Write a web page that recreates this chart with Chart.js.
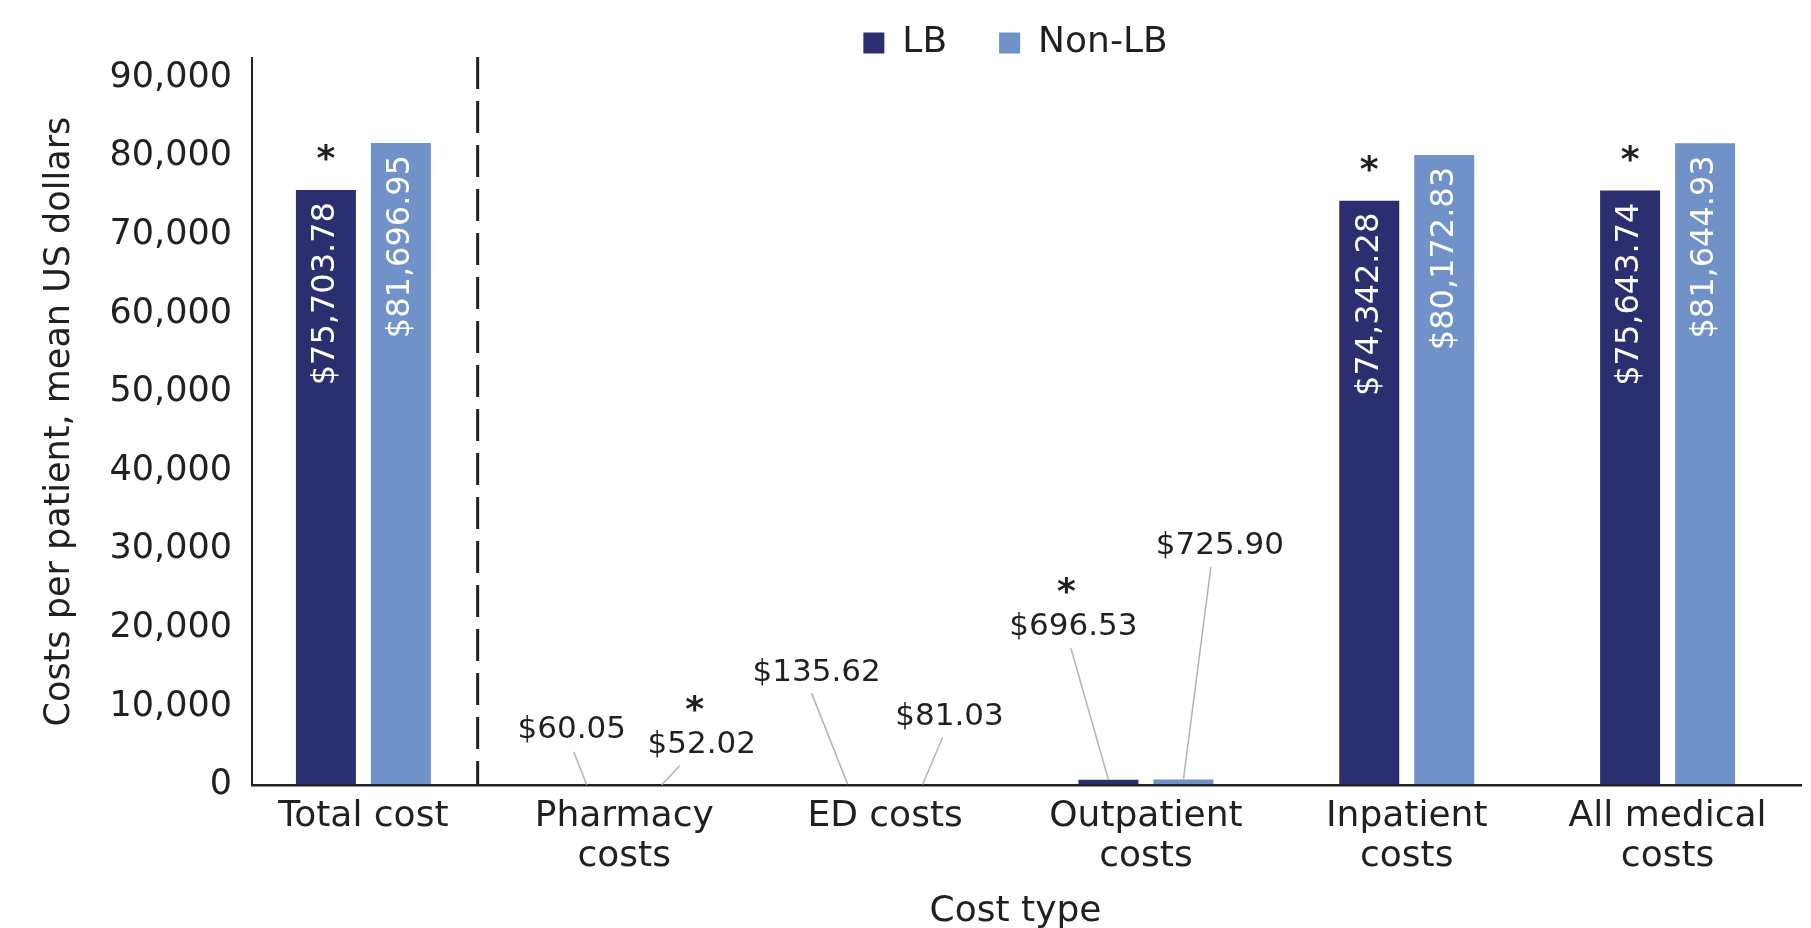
<!DOCTYPE html>
<html>
<head>
<meta charset="utf-8">
<script src="https://cdn.jsdelivr.net/npm/chart.js@4.4.0/dist/chart.umd.min.js"></script>
<style>
  html, body { margin: 0; padding: 0; background: #fff; }
  #wrap { width: 1811px; height: 928px; }
</style>
</head>
<body>
<div id="wrap"><canvas id="chart-costs"></canvas></div>
<script>
const categories = [["Total cost"], ["Pharmacy", "costs"], ["ED costs"], ["Outpatient", "costs"], ["Inpatient", "costs"], ["All medical", "costs"]];
const lbCosts = [75703.78, 60.05, 135.62, 696.53, 74342.28, 75643.74];
const nonLbCosts = [81696.95, 52.02, 81.03, 725.90, 80172.83, 81644.93];
const lbSignificant = [true, false, false, true, true, true];
const nonLbSignificant = [false, true, false, false, false, false];
const yTicks = [0, 10000, 20000, 30000, 40000, 50000, 60000, 70000, 80000, 90000];

// bars too short for an inside label get a callout: [text dx, text dy, leader dx, leader dy] from the bar top
const calloutLB = [null, [-15, -54.5, -13, -33], [-31, -111.5, -36, -91], [-35, -153, -37.5, -131.5], null, null];
const calloutNonLB = [null, [40, -40, 18, -19], [27, -67.5, 20, -47], [36.5, -234, 27.5, -212.6], null, null];

const INK = "#231f20";
const FONT = '"DejaVu Sans", sans-serif';
Chart.defaults.font.family = FONT;
Chart.defaults.color = INK;

const money = (v) => "$" + v.toLocaleString("en-US", { minimumFractionDigits: 2, maximumFractionDigits: 2 });

// legend sits partly in the plot's top margin, like the original
const trimLegend = {
    id: "trimLegend",
    beforeLayout(chart) {
        const legend = chart.legend;
        if (!legend || legend.__trimmed) return;
        const fit = legend.fit;
        legend.fit = function () {
            fit.call(this);
            this.height -= 13;
        };
        legend.__trimmed = true;
    },
};

const frame = {
    id: "frame",
    afterDatasetsDraw(chart) {
        const { ctx, chartArea, scales } = chart;
        const axisX = scales.x.getPixelForValue(-0.427);
        const divX = scales.x.getPixelForValue(0.438);
        const base = scales.y.getPixelForValue(0);
        ctx.save();
        ctx.strokeStyle = INK;
        ctx.lineWidth = 2;
        ctx.beginPath();
        ctx.moveTo(axisX, chartArea.top - 1);
        ctx.lineTo(axisX, base);
        ctx.stroke();
        ctx.lineWidth = 3;
        ctx.setLineDash([32, 12]);
        ctx.beginPath();
        ctx.moveTo(divX, chartArea.top - 1);
        ctx.lineTo(divX, base);
        ctx.stroke();
        ctx.setLineDash([]);
        ctx.lineWidth = 2.5;
        ctx.beginPath();
        ctx.moveTo(axisX - 1, base);
        ctx.lineTo(chartArea.right + 4, base);
        ctx.stroke();
        ctx.restore();
    },
};

const costLabels = {
    id: "costLabels",
    afterDraw(chart) {
        const ctx = chart.ctx;
        const sets = [
            [lbCosts, lbSignificant, calloutLB],
            [nonLbCosts, nonLbSignificant, calloutNonLB],
        ];
        sets.forEach(([values, stars, callouts], di) => {
            chart.getDatasetMeta(di).data.forEach((bar, i) => {
                const text = money(values[i]);
                let starX = bar.x;
                let starY = bar.y - 40;
                ctx.save();
                if (!callouts[i]) {
                    ctx.translate(bar.x, bar.y + 12);
                    ctx.rotate(-Math.PI / 2);
                    ctx.font = "32px " + FONT;
                    ctx.fillStyle = "#ffffff";
                    ctx.textAlign = "right";
                    ctx.textBaseline = "middle";
                    ctx.fillText(text, 0, 0);
                } else {
                    const [tx, ty, lx, ly] = callouts[i];
                    ctx.strokeStyle = "#b3b3b3";
                    ctx.lineWidth = 1.5;
                    ctx.beginPath();
                    ctx.moveTo(bar.x + lx, bar.y + ly);
                    ctx.lineTo(bar.x, bar.y);
                    ctx.stroke();
                    ctx.font = "31px " + FONT;
                    ctx.fillStyle = INK;
                    ctx.textAlign = "center";
                    ctx.textBaseline = "middle";
                    ctx.fillText(text, bar.x + tx, bar.y + ty);
                    starX = bar.x + tx - 7;
                    starY = bar.y + ty - 44;
                }
                ctx.restore();
                if (stars[i]) {
                    ctx.save();
                    ctx.font = "bold 36px " + FONT;
                    ctx.fillStyle = INK;
                    ctx.textAlign = "center";
                    ctx.textBaseline = "alphabetic";
                    ctx.fillText("*", starX, starY + 20);
                    ctx.restore();
                }
            });
        });
    },
};

const canvas = document.getElementById("chart-costs");
new Chart(canvas.getContext("2d"), {
    type: "bar",
    data: {
        labels: categories,
        datasets: [
            {
                label: "LB",
                data: lbCosts,
                backgroundColor: "#2b2f6f",
                borderWidth: 0,
                categoryPercentage: 0.575,
                barPercentage: 0.8,
            },
            {
                label: "Non-LB",
                data: nonLbCosts,
                backgroundColor: "#7191c9",
                borderWidth: 0,
                categoryPercentage: 0.575,
                barPercentage: 0.8,
            },
        ],
    },
    options: {
        responsive: true,
        maintainAspectRatio: false,
        animation: false,
        layout: { padding: { top: -27, right: 13, bottom: 0, left: 0 } },
        plugins: {
            legend: {
                position: "top",
                fullSize: false,
                labels: {
                    boxWidth: 21,
                    boxHeight: 21,
                    padding: 52,
                    color: INK,
                    font: { size: 36 },
                },
            },
            tooltip: { enabled: false },
        },
        scales: {
            x: {
                grid: { display: false, drawTicks: false },
                border: { display: false },
                ticks: {
                    color: INK,
                    font: { size: 36, lineHeight: 1.1 },
                    padding: 12,
                    maxRotation: 0,
                    autoSkip: false,
                },
                title: {
                    display: true,
                    text: "Cost type",
                    color: INK,
                    font: { size: 36, lineHeight: 1.1 },
                    padding: { top: 3.5, bottom: -3.5 },
                },
            },
            y: {
                min: 0,
                max: 92500,
                afterBuildTicks: (scale) => {
                    scale.ticks = yTicks.map((v) => ({ value: v }));
                },
                afterFit: (scale) => {
                    scale.width = 233;
                },
                grid: { display: false, drawTicks: false },
                border: { display: false },
                ticks: {
                    color: INK,
                    font: { size: 35 },
                    padding: 1,
                    callback: (v) => v.toLocaleString("en-US"),
                },
                title: {
                    display: true,
                    text: "Costs per patient, mean US dollars",
                    color: INK,
                    font: { size: 35 },
                    padding: { top: 39, bottom: 0 },
                },
            },
        },
    },
    plugins: [trimLegend, frame, costLabels],
});
</script>
</body>
</html>
